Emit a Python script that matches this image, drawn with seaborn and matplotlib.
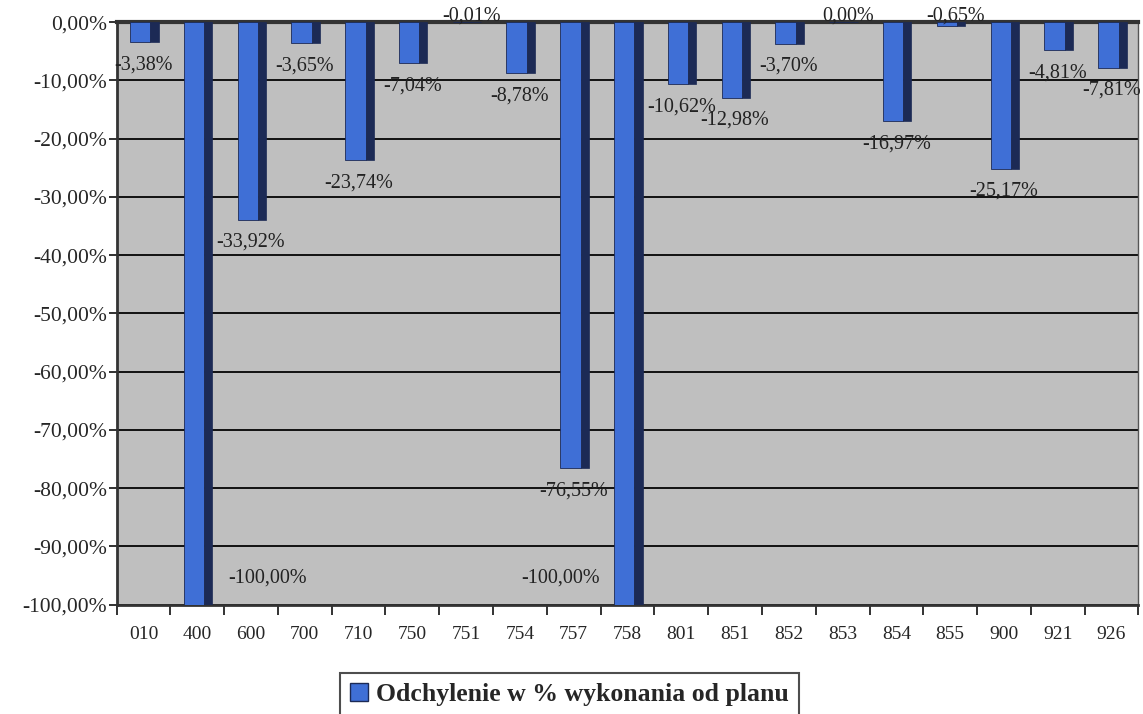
import matplotlib
matplotlib.use("Agg")
import matplotlib.pyplot as plt
import matplotlib.patches as mpatches
import seaborn as sns
import pandas as pd
import numpy as np

# data
categories = ["010", "400", "600", "700", "710", "750", "751", "754", "757", "758",
              "801", "851", "852", "853", "854", "855", "900", "921", "926"]
values = [-3.38, -100.00, -33.92, -3.65, -23.74, -7.04, -0.01, -8.78, -76.55, -100.00,
          -10.62, -12.98, -3.70, 0.00, -16.97, -0.65, -25.17, -4.81, -7.81]
legend_label = "Odchylenie w % wykonania od planu"

front = "#3f6fd6"
side = "#1c2a55"

sns.set_theme(style="white")
plt.rcParams['font.family'] = ['Liberation Serif', 'DejaVu Serif']

df = pd.DataFrame({"kat": categories, "odch": values})

fig = plt.figure(figsize=(11.43, 7.14), dpi=100)
ax = fig.add_axes([0.102, 0.153, 0.894, 0.816])
ax.set_facecolor("#bfbfbf")

sns.barplot(data=df, x="kat", y="odch", color=front, width=0.38, saturation=1,
            edgecolor="#1c2a55", linewidth=0.6, ax=ax, zorder=3)

# fake 3D side face for each bar
for p in ax.patches:
    p.set_x(p.get_x() - 0.06)
    x0 = p.get_x() + p.get_width()
    h = p.get_height()
    ax.add_patch(mpatches.Rectangle((x0, 0), 0.15, h, facecolor=side,
                                    edgecolor=side, linewidth=0.5, zorder=3))

ax.set_ylim(-100, 0)
ax.set_xlim(-0.5, len(categories) - 0.5)

yt = np.arange(0, -101, -10)
ax.set_yticks(yt)
ax.set_yticklabels([("%.2f" % v).replace(".", ",") + "%" for v in yt], fontsize=15.5)
ax.yaxis.grid(True, color="#111111", linewidth=1.4, zorder=1)
ax.set_axisbelow(True)

ax.set_xticks(range(len(categories)))
ax.set_xticklabels(categories, fontsize=14)
ax.set_xticks(np.arange(-0.5, len(categories), 1), minor=True)
ax.tick_params(axis="x", which="major", length=0, pad=15)
ax.tick_params(axis="x", which="minor", length=7, width=1.3, direction="out",
               color="#222222", bottom=True)
ax.tick_params(axis="y", length=6, width=1.3, direction="out", color="#222222",
               left=True, pad=1)
ax.set_xlabel("")
ax.set_ylabel("")

for s in ["left", "bottom"]:
    ax.spines[s].set_color("#333333")
    ax.spines[s].set_linewidth(2.0)
ax.spines["top"].set_color("#333333")
ax.spines["top"].set_linewidth(3.0)
ax.spines["right"].set_color("#555555")
ax.spines["right"].set_linewidth(1.0)

# value labels
for i, v in enumerate(values):
    txt = ("%.2f" % v).replace(".", ",") + "%"
    if v == -100.00:
        dx = 1.3 if i < 5 else -1.25
        ax.text(i + dx, -95.4, txt, ha="center", va="center", fontsize=14.5,
                color="#222222", zorder=5)
    elif v > -1.0:
        ax.text(i + 0.1, 1.0, txt, ha="center", va="center", fontsize=14.5,
                color="#222222", zorder=5, clip_on=False)
    else:
        ax.text(i, v - 3.9, txt, ha="center", va="center", fontsize=14.5,
                color="#222222", zorder=5)

handle = mpatches.Patch(facecolor=front, edgecolor="#1c2a55", label=legend_label)
leg = fig.legend(handles=[handle], loc="upper center", bbox_to_anchor=(0.498, 0.076),
                 frameon=True, fancybox=False, edgecolor="#222222",
                 prop={"weight": "bold", "size": 18.5}, handlelength=0.7,
                 handleheight=0.7, handletextpad=0.3, borderpad=0.4)
leg.get_frame().set_linewidth(1.5)

fig.savefig("out.png", dpi=100)
